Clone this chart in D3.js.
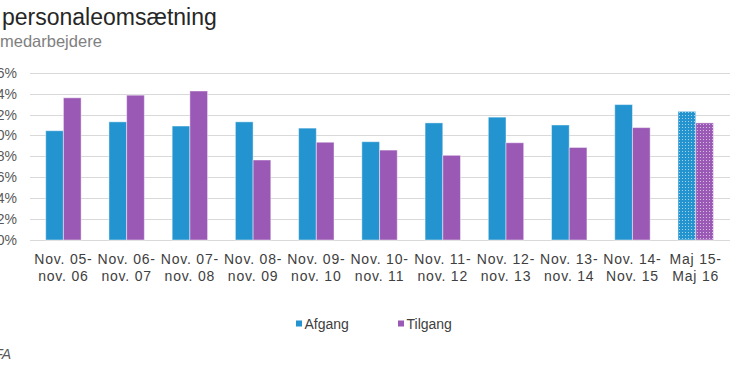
<!DOCTYPE html>
<html>
<head>
<meta charset="utf-8">
<script src="https://cdn.jsdelivr.net/npm/d3@7"></script>
<style>
  body { margin: 0; background: #fff; }
  svg { display: block; font-family: "Liberation Sans", Arial, sans-serif; }
</style>
</head>
<body>
<div id="chart"></div>
<script>
// periods (two-line labels)
const periods = [
  ["Nov. 05-", "nov. 06"], ["Nov. 06-", "nov. 07"], ["Nov. 07-", "nov. 08"],
  ["Nov. 08-", "nov. 09"], ["Nov. 09-", "nov. 10"], ["Nov. 10-", "nov. 11"],
  ["Nov. 11-", "nov. 12"], ["Nov. 12-", "nov. 13"], ["Nov. 13-", "nov. 14"],
  ["Nov. 14-", "Nov. 15"], ["Maj 15-", "Maj 16"]
];
const afgang  = [10.45, 11.3, 10.9, 11.3, 10.7, 9.4, 11.2, 11.75, 11.0, 12.95, 12.3];
const tilgang = [13.6, 13.85, 14.25, 7.65, 9.35, 8.6, 8.1, 9.3, 8.85, 10.75, 11.2];
const yTicks = [0, 2, 4, 6, 8, 10, 12, 14, 16];
const seriesNames = ["Afgang", "Tilgang"];
const colors = ["#2394cf", "#9b59b6"];

const W = 730, H = 365;
const svg = d3.select("#chart").append("svg").attr("width", W).attr("height", H);

// dotted fill for the last (partial) period
const defs = svg.append("defs");
colors.forEach((c, i) => {
  const p = defs.append("pattern")
    .attr("id", "dots" + i)
    .attr("width", 3).attr("height", 3)
    .attr("patternUnits", "userSpaceOnUse");
  p.append("rect").attr("width", 3).attr("height", 3).attr("fill", c);
  p.append("rect").attr("x", 1).attr("y", 1).attr("width", 1).attr("height", 1)
    .attr("fill", "#fff").attr("opacity", 0.6);
});

const x0 = d3.scaleBand()
  .domain(d3.range(periods.length))
  .range([31.8, 727.3])
  .paddingInner(0.44)
  .paddingOuter(0.22);
const x1 = d3.scaleBand().domain([0, 1]).range([0, x0.bandwidth()]);
const y = d3.scaleLinear().domain([0, 16]).range([240, 72.7]);

// gridlines
svg.append("g").selectAll("line").data(yTicks).join("line")
  .attr("x1", 30).attr("x2", 730)
  .attr("y1", d => Math.round(y(d)) + 0.5).attr("y2", d => Math.round(y(d)) + 0.5)
  .attr("stroke", "#d9d9d9").attr("stroke-width", 1);

// y labels (the source image is cropped on the left)
svg.append("g").selectAll("text").data(yTicks).join("text")
  .attr("x", 17).attr("y", d => y(d) + 5)
  .attr("text-anchor", "end")
  .attr("font-size", 14).attr("fill", "#595959")
  .text(d => d + "%");

// bars
const groups = svg.append("g").selectAll("g").data(periods).join("g")
  .attr("transform", (d, i) => `translate(${x0(i)},0)`);
groups.selectAll("rect")
  .data((d, i) => [afgang[i], tilgang[i]].map((v, s) => ({ v, s, i })))
  .join("rect")
  .attr("x", d => x1(d.s))
  .attr("width", x1.bandwidth())
  .attr("y", d => y(d.v))
  .attr("height", d => y(0) - y(d.v))
  .attr("fill", d => d.i === periods.length - 1 ? `url(#dots${d.s})` : colors[d.s])
  .attr("stroke", "#fff").attr("stroke-opacity", 0.45).attr("stroke-width", 1);

// x labels
const xl = svg.append("g").selectAll("text").data(periods).join("text")
  .attr("text-anchor", "middle")
  .attr("font-size", 14).attr("fill", "#404040")
  .attr("letter-spacing", 0.8);
xl.append("tspan").attr("x", (d, i) => x0(i) + x0.bandwidth() / 2).attr("y", 264).text(d => d[0]);
xl.append("tspan").attr("x", (d, i) => x0(i) + x0.bandwidth() / 2).attr("y", 280.5).text(d => d[1]);

// title
svg.append("text").attr("x", 2).attr("y", 24.5)
  .attr("font-size", 23).attr("fill", "#262626")
  .text("personaleomsætning");
svg.append("text").attr("x", 0).attr("y", 46.5)
  .attr("font-size", 16.5).attr("fill", "#808080")
  .text("medarbejdere");

// legend
const legendX = [296, 398];
const lg = svg.append("g").selectAll("g").data(seriesNames).join("g")
  .attr("transform", (d, i) => `translate(${legendX[i]},0)`);
lg.append("rect").attr("x", 0).attr("y", 320.5).attr("width", 6).attr("height", 6)
  .attr("fill", (d, i) => colors[i]);
lg.append("text").attr("x", 8.5).attr("y", 329)
  .attr("font-size", 14).attr("fill", "#404040")
  .text(d => d);

// source (cut off on the left)
svg.append("text").attr("x", 11).attr("y", 359)
  .attr("text-anchor", "end")
  .attr("font-size", 14).attr("font-style", "italic").attr("fill", "#595959")
  .text("FA");
</script>
</body>
</html>
